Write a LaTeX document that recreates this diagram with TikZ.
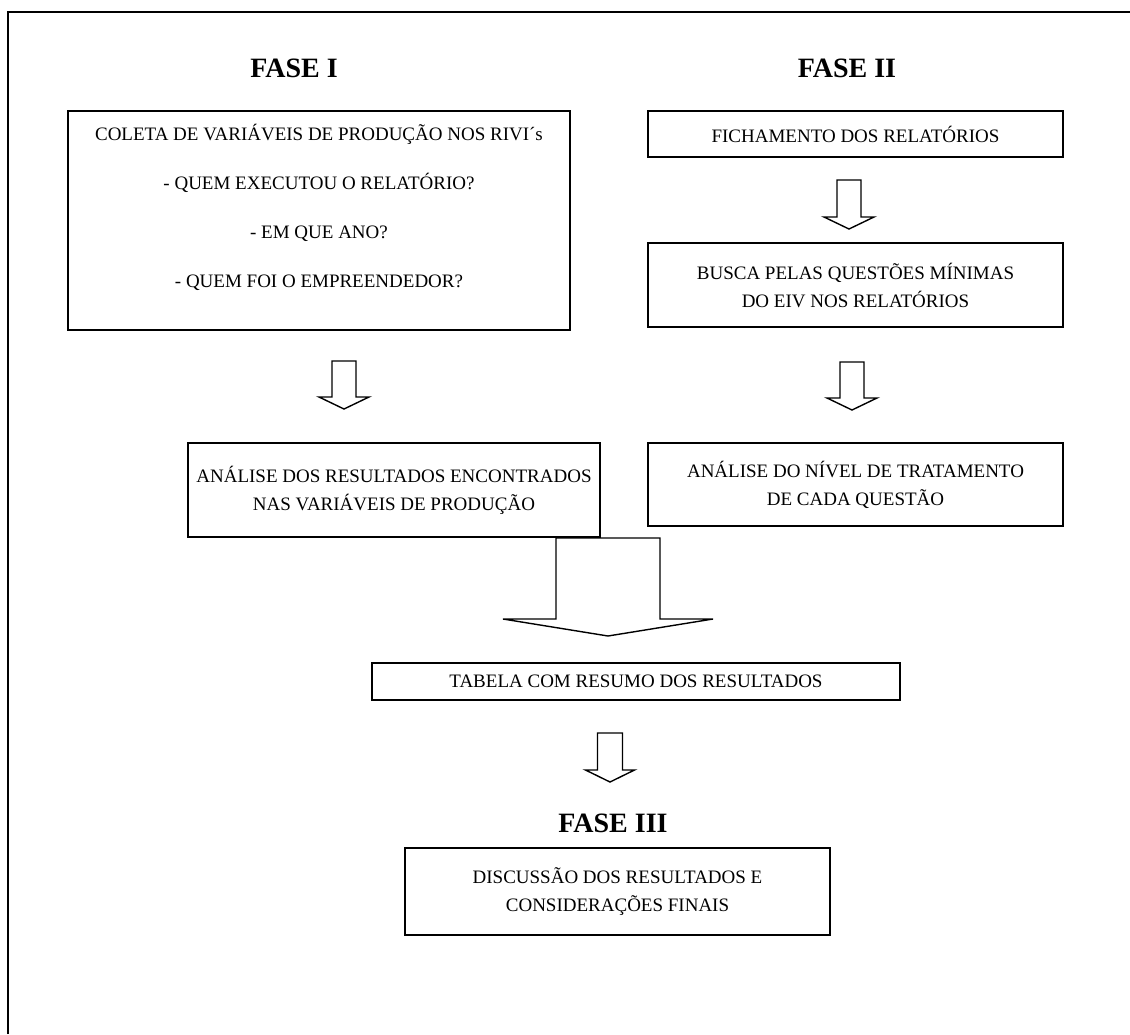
\documentclass[tikz,border=0pt]{standalone}
\usepackage{fontspec}
\setmainfont{Liberation Serif}
\newcommand\bodyfont{\fontsize{19}{28}\selectfont}
\newcommand\headfont{\fontsize{28}{32}\selectfont\bfseries}
\newcommand\bkarrow[6]{% x, ytop, shaft half width, shaft length, head half width, head length
  \draw[blockarrow] (#1-#3,#2) -- (#1+#3,#2) -- (#1+#3,#2+#4) -- (#1+#5,#2+#4) -- (#1,#2+#4+#6)
    -- (#1-#5,#2+#4) -- (#1-#3,#2+#4) -- cycle;}
\tikzset{
  box/.style={draw, line width=1.4pt, align=center, inner sep=0pt, font=\bodyfont},
  head/.style={font=\headfont, inner sep=0pt},
  blockarrow/.style={draw, fill=white, line width=1.4pt, line join=miter},
  frame/.style={line width=2pt}
}
\begin{document}
\begin{tikzpicture}[x=1pt,y=-1pt]
\useasboundingbox (0,0) rectangle (1130,1034);
\draw[frame] (8,1034) -- (8,12) -- (1130,12);

\node[head] (f1) at (294,68) {FASE I};
\node[head] (f2) at (847,68) {FASE II};
\node[head] (f3) at (613,823) {FASE III};

\node[box, minimum width=502pt, minimum height=219pt] (A) at (319,220.5) {};
\node[font=\bodyfont, align=center, inner sep=0pt] (At) at (319,207)
  {COLETA DE VARIÁVEIS DE PRODUÇÃO NOS RIVI´s\\[21pt]
   - QUEM EXECUTOU O RELATÓRIO?\\[21pt]
   - EM QUE ANO?\\[21pt]
   - QUEM FOI O EMPREENDEDOR?};

\node[box, minimum width=415pt, minimum height=46pt] (B) at (855.5,134) {FICHAMENTO DOS RELATÓRIOS};
\node[box, minimum width=415pt, minimum height=84pt] (C) at (855.5,285)
  {BUSCA PELAS QUESTÕES MÍNIMAS\\DO EIV NOS RELATÓRIOS};
\node[box, minimum width=412pt, minimum height=94pt] (D) at (394,490)
  {ANÁLISE DOS RESULTADOS ENCONTRADOS\\NAS VARIÁVEIS DE PRODUÇÃO};
\node[box, minimum width=415pt, minimum height=83pt] (E) at (855.5,484.5)
  {ANÁLISE DO NÍVEL DE TRATAMENTO\\DE CADA QUESTÃO};
\node[box, minimum width=528pt, minimum height=37pt] (F) at (636,681.5)
  {TABELA COM RESUMO DOS RESULTADOS};
\node[box, minimum width=425pt, minimum height=87pt] (G) at (617.5,891.5)
  {DISCUSSÃO DOS RESULTADOS E\\CONSIDERAÇÕES FINAIS};

\bkarrow{849}{180}{12}{37}{25}{12}
\bkarrow{344}{361}{12}{36}{25}{12}
\bkarrow{852}{362}{12}{36}{25}{12}
\bkarrow{608}{538}{52}{81}{105}{17}
\bkarrow{610}{733}{12.5}{37}{24.5}{12}
\end{tikzpicture}
\end{document}
